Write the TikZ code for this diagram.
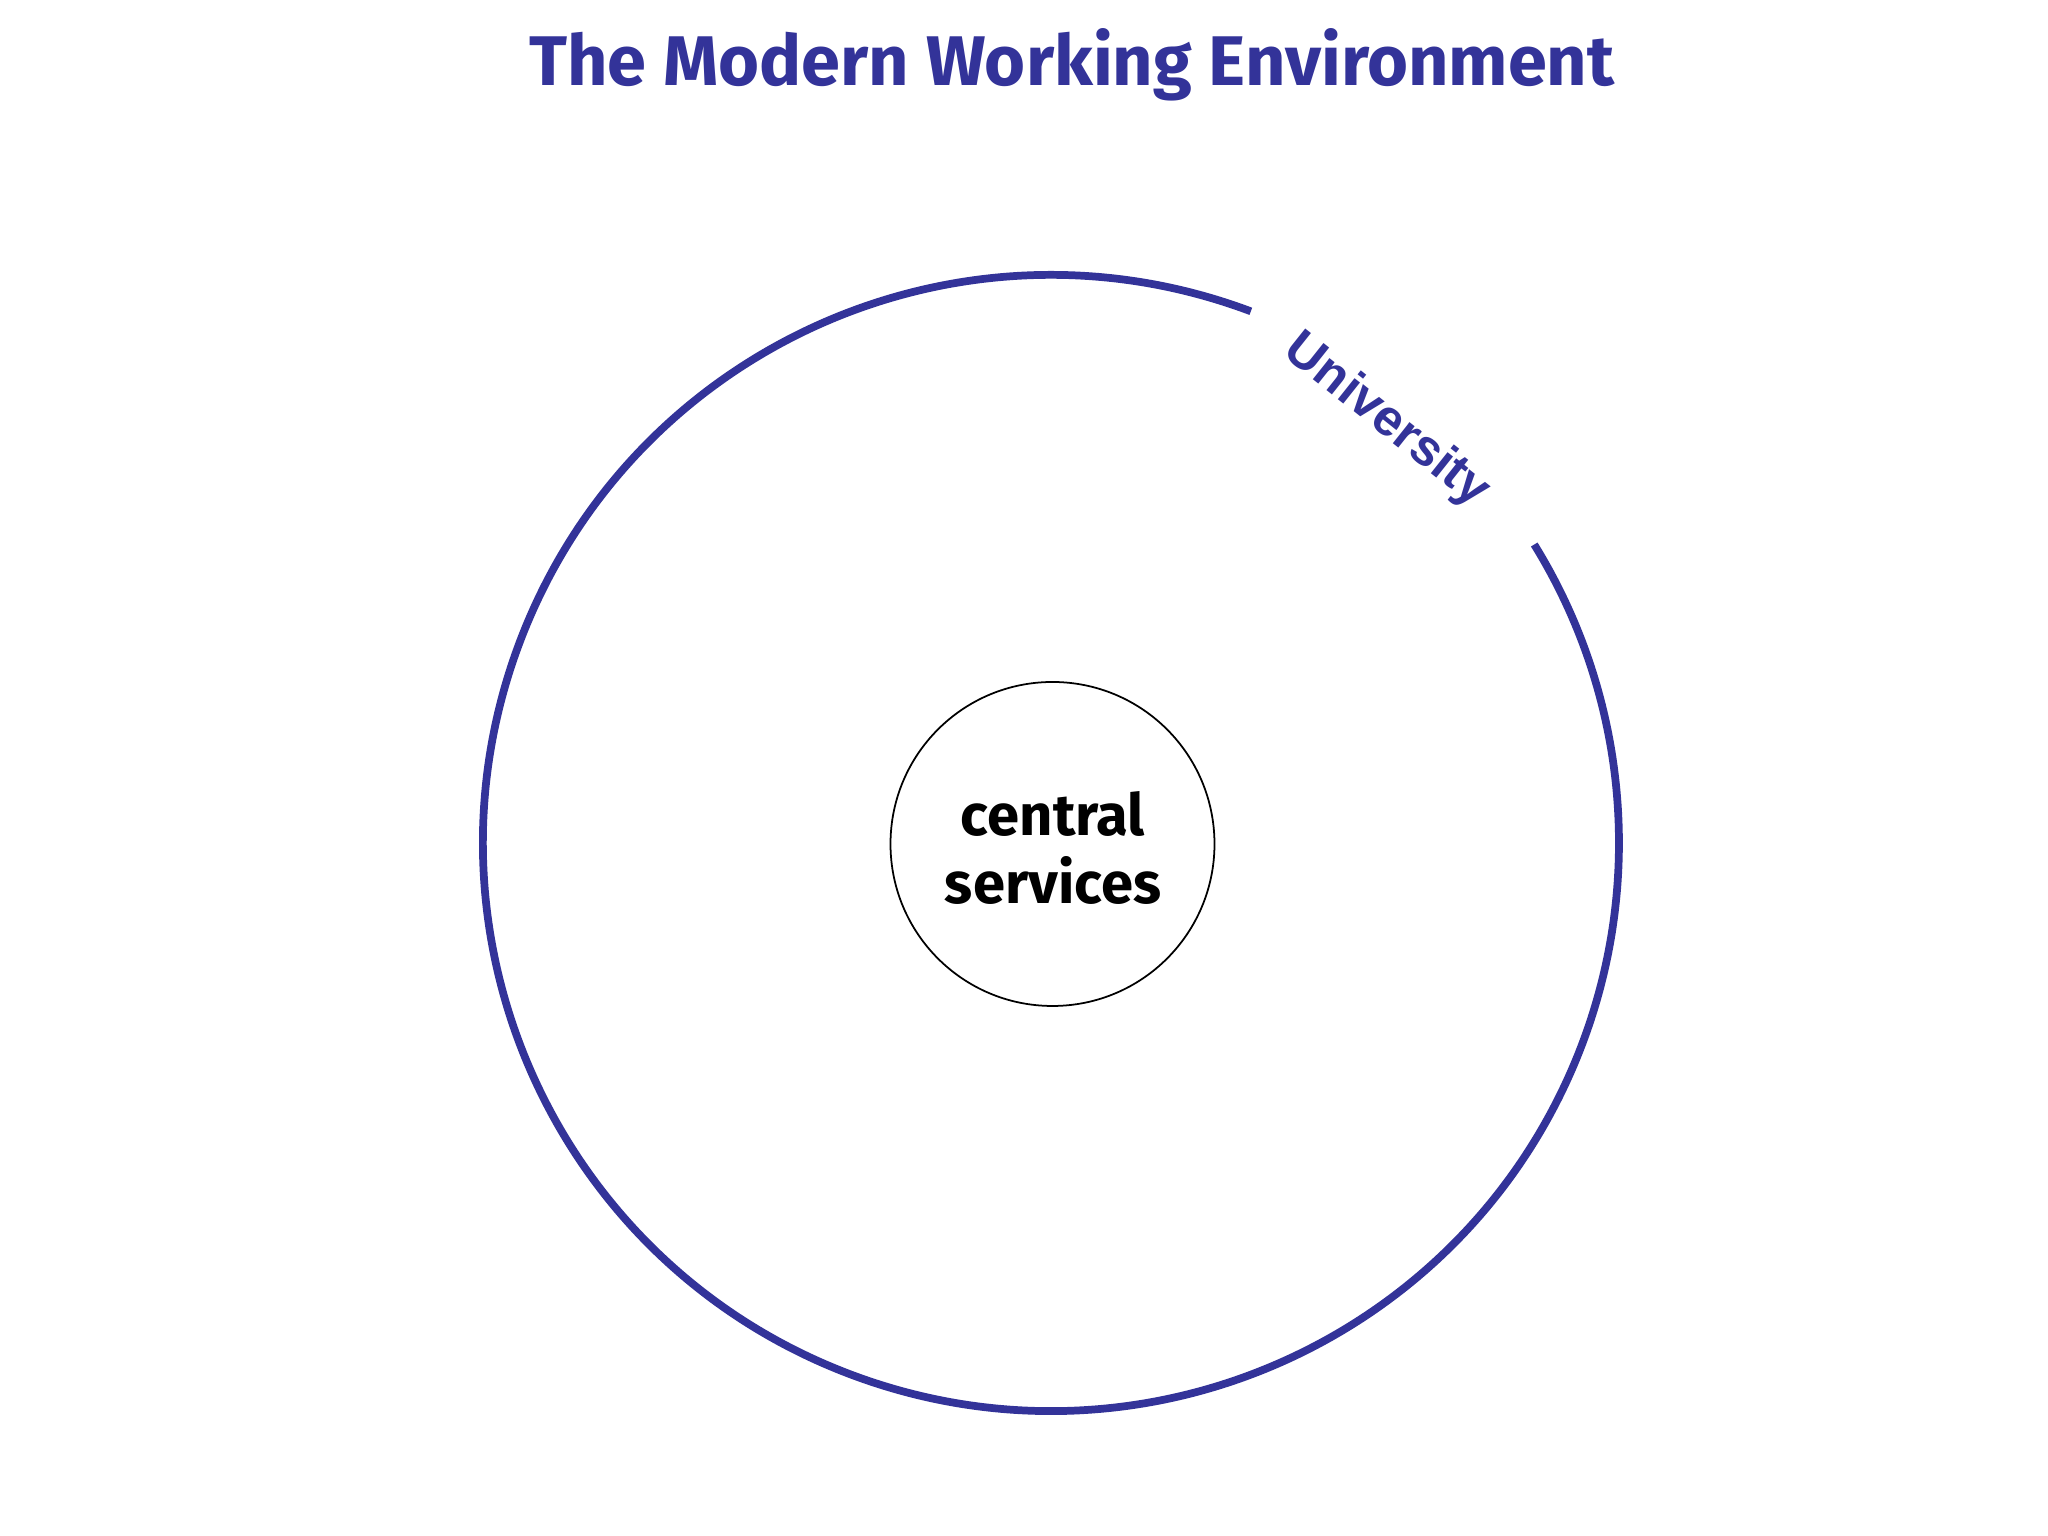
\documentclass[tikz,border=0pt]{standalone}
\usepackage{fontspec}
\setmainfont{Fira Sans}
\newfontfamily\arialfont{Liberation Sans}[BoldFont={Liberation Sans Bold}]
\definecolor{uniblue}{RGB}{51,51,153}
\begin{document}
\begin{tikzpicture}[x=1cm,y=1cm,
  bigring/.style={draw=uniblue, line width=2.2pt},
  innerring/.style={circle, draw=black, line width=0.5pt, minimum size=3.24cm, inner sep=0pt},
  titletext/.style={text=uniblue, font=\fontsize{20}{24}\selectfont\bfseries},
  cstextstyle/.style={align=center, font=\fontsize{16.5}{19.5}\selectfont\bfseries},
  unilabel/.style={text=uniblue}]
\useasboundingbox[fill=white] (0,0) rectangle (20.48,15.36);
\coordinate (C) at (10.51,6.93);
\node[titletext] (title) at (10.72,14.71) {The Modern Working Environment};
\draw[bigring] ([shift={(69.4:5.68)}]C) arc[start angle=69.4, end angle=391.7, radius=5.68];
\node[innerring] (cs) at (10.525,6.92) {};
\node[cstextstyle] (cstext) at (10.53,6.88) {central\\services};
\node[unilabel, rotate=-38.5] (uni) at ([shift={(51.5:5.39)}]C) {\arialfont\bfseries\fontsize{14.5}{16}\selectfont University};
\end{tikzpicture}
\end{document}
